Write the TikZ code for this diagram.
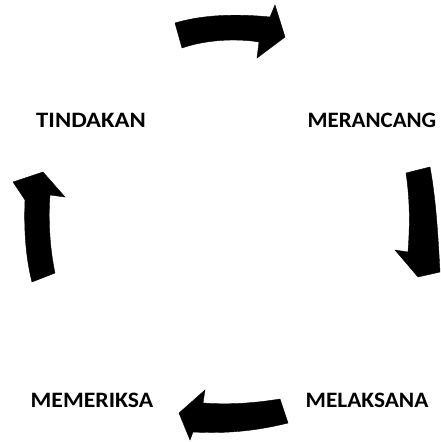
\documentclass[tikz,border=0pt]{standalone}
\usepackage{fontspec}
\setmainfont{Carlito}
\newcommand{\widelbl}[2][1.12]{\scalebox{#1}[1]{#2}}
\begin{document}
\begin{tikzpicture}[x=1pt,y=-1pt,
  lbl/.style={font=\bfseries\fontsize{22}{26}\selectfont, inner sep=0pt},
  arrowshape/.style={fill=black, draw=black, line join=miter}]
\useasboundingbox (0,0) rectangle (440,442);
\node[lbl] (tindakan) at (91,120) {\widelbl{TINDAKAN}};
\node[lbl] (merancang) at (372,120) {\widelbl[1.04]{MERANCANG}};
\node[lbl] (memeriksa) at (92,400) {\widelbl[1.08]{MEMERIKSA}};
\node[lbl] (melaksana) at (367,400) {\widelbl[1.06]{MELAKSANA}};
% top arrow
\fill[arrowshape] (175,23) .. controls (205,14) and (240,14) .. (270,17) -- (275,5) -- (285,37) -- (257,58) -- (259,42) .. controls (235,38) and (205,40) .. (182,48) -- cycle;
% right arrow
\fill[arrowshape] (406,173) -- (430,167) .. controls (436,200) and (438,235) .. (440,272) -- (418,277) -- (395,250) -- (408,252) .. controls (410,225) and (410,200) .. (406,173) -- cycle;
% bottom arrow
\fill[arrowshape] (280,399) -- (288,423) .. controls (260,430) and (230,434) .. (193,432) -- (190,440) -- (179,413) -- (205,390) -- (203,403) .. controls (230,405) and (255,403) .. (280,399) -- cycle;
% left arrow
\fill[arrowshape] (43,172) -- (65,197) -- (50,195) .. controls (48,220) and (50,250) .. (55,273) -- (32,282) .. controls (25,255) and (24,225) .. (25,200) -- (13,182) -- cycle;
\end{tikzpicture}
\end{document}
